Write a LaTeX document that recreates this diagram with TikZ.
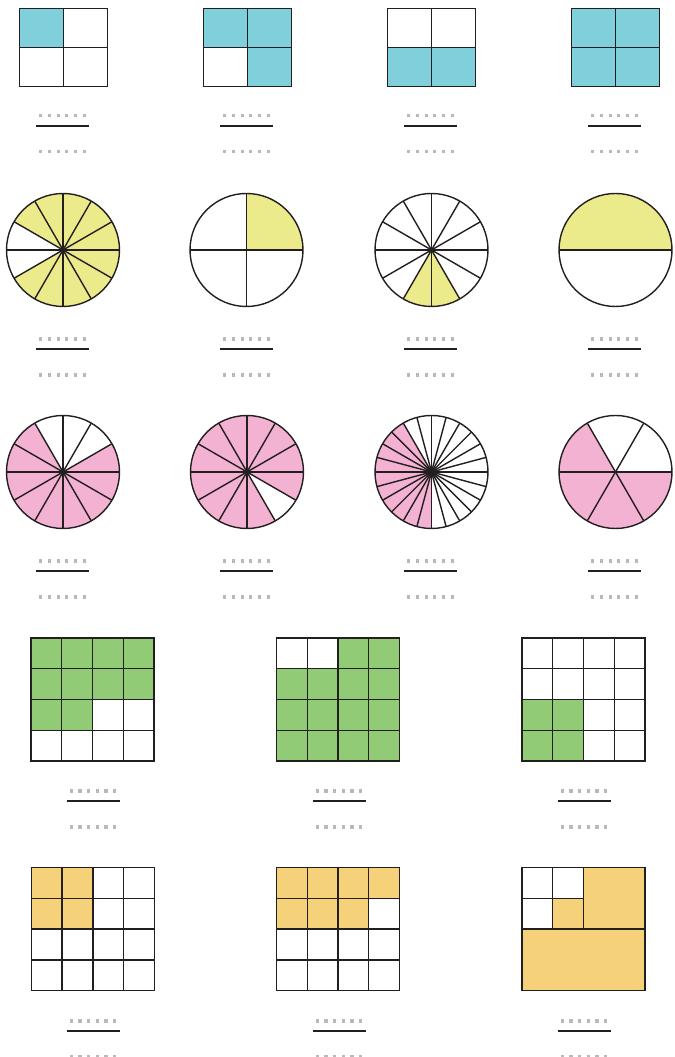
\documentclass[tikz,border=0pt]{standalone}
\usepackage{xcolor}
\usepackage{tikz}
\usetikzlibrary{positioning,calc}

\definecolor{tileblue}{RGB}{127,208,218}
\definecolor{tileyellow}{RGB}{235,235,140}
\definecolor{tilepink}{RGB}{243,178,210}
\definecolor{tilegreen}{RGB}{145,203,118}
\definecolor{tileorange}{RGB}{245,210,122}
\definecolor{dotgray}{RGB}{185,185,185}
\definecolor{inkline}{RGB}{35,31,32}

% blank fraction: dotted numerator, bar, dotted denominator
\newcommand{\blankfrac}[2]{%
  \coordinate (#1) at #2;
  \foreach \k in {0,...,5} {
    \fill[dotgray] ($(#1)+(-21.7+8.67*\k,10)$) +(-1.6,-1.6) rectangle +(1.6,1.6);
    \fill[dotgray] ($(#1)+(-21.7+8.67*\k,-26)$) +(-1.6,-1.6) rectangle +(1.6,1.6);
  }
  \draw[fracbar] ($(#1)+(-26.5,0)$) -- ($(#1)+(26.5,0)$);
}

% 2x2 box, shaded cells given as col/row (row 0 on top)
\newcommand{\quadbox}[3]{%
  \coordinate (#1) at #2;
  \foreach \c/\r in {#3}
    \fill[tileblue] ($(#1)+(-44+44*\c,39.2-39.2*\r)$) rectangle ++(44,-39.2);
  \draw[outline] ($(#1)+(-44,-39.2)$) rectangle ++(88,78.4);
  \draw[outline] ($(#1)+(0,-39.2)$) -- ++(0,78.4);
  \draw[outline] ($(#1)+(-44,0)$) -- ++(88,0);
}

% circle cut in #3 equal slices, shaded slices counted from east
\newcommand{\piechart}[5]{%
  \coordinate (#1) at #2;
  \foreach \s in {#4} {
    \pgfmathsetmacro{\angA}{\s*360/#3}
    \pgfmathsetmacro{\angB}{(\s+1)*360/#3}
    \fill[#5] (#1) -- ++(\angA:56.5) arc[start angle=\angA, end angle=\angB, radius=56.5] -- cycle;
  }
  \foreach \s in {1,...,#3}
    \draw[outline] (#1) -- ++({\s*360/#3}:56.5);
  \draw[outline] (#1) circle[radius=56.5];
}

% 4x4 grid, shaded cells given as col/row (row 0 on top)
\newcommand{\tilegrid}[4]{%
  \coordinate (#1) at #2;
  \foreach \c/\r in {#3}
    \fill[#4] ($(#1)+(-61.5+30.75*\c,61.5-30.75*\r)$) rectangle ++(30.75,-30.75);
  \foreach \k in {1,2,3} {
    \draw[outline] ($(#1)+(-61.5+30.75*\k,61.5)$) -- ++(0,-123);
    \draw[outline] ($(#1)+(-61.5,61.5-30.75*\k)$) -- ++(123,0);
  }
  \draw[outline] ($(#1)+(-61.5,-61.5)$) rectangle ++(123,123);
}

\begin{document}
\begin{tikzpicture}[x=0.02cm, y=0.02cm]

    \tikzset{
        outline/.style={draw=inkline, line width=0.8pt, line join=miter},
        fracbar/.style={draw=inkline, line width=1.1pt}
    }

    \useasboundingbox (0,0) rectangle (675,1057);

    % Row 1: quarters of a box
    \quadbox{sqA}{(63.3,1009.5)}{0/0}
    \quadbox{sqB}{(247.5,1009.5)}{0/0,1/0,1/1}
    \quadbox{sqC}{(431.5,1009.5)}{0/1,1/1}
    \quadbox{sqD}{(615.5,1009.5)}{0/0,1/0,0/1,1/1}
    \blankfrac{fA1}{(62.5,931.3)}
    \blankfrac{fA2}{(246.5,931.3)}
    \blankfrac{fA3}{(430.5,931.3)}
    \blankfrac{fA4}{(614.5,931.3)}

    % Row 2: yellow circles
    \piechart{ciA}{(63,807)}{12}{0,1,2,3,4,7,8,9,10,11}{tileyellow}
    \piechart{ciB}{(246.5,807)}{4}{0}{tileyellow}
    \piechart{ciC}{(431.5,807)}{12}{8,9}{tileyellow}
    \piechart{ciD}{(615.5,807)}{2}{0}{tileyellow}
    \blankfrac{fB1}{(62.5,708)}
    \blankfrac{fB2}{(246.5,708)}
    \blankfrac{fB3}{(430.5,708)}
    \blankfrac{fB4}{(614.5,708)}

    % Row 3: pink circles
    \piechart{cpA}{(63,585)}{12}{0,4,5,6,7,8,9,10,11}{tilepink}
    \piechart{cpB}{(247,585)}{12}{0,1,2,3,4,5,6,7,8,9,11}{tilepink}
    \piechart{cpC}{(431.5,585)}{24}{8,9,10,11,12,13,14,15,16,17}{tilepink}
    \piechart{cpD}{(615.5,585)}{6}{2,3,4,5}{tilepink}
    \blankfrac{fC1}{(62.5,486)}
    \blankfrac{fC2}{(246.5,486)}
    \blankfrac{fC3}{(430.5,486)}
    \blankfrac{fC4}{(614.5,486)}

    % Row 4: green grids
    \tilegrid{gA}{(92.5,357.5)}{0/0,1/0,2/0,3/0,0/1,1/1,2/1,3/1,0/2,1/2}{tilegreen}
    \tilegrid{gB}{(338,357.5)}{2/0,3/0,0/1,1/1,2/1,3/1,0/2,1/2,2/2,3/2,0/3,1/3,2/3,3/3}{tilegreen}
    \tilegrid{gC}{(583.5,357.5)}{0/2,1/2,0/3,1/3}{tilegreen}
    \blankfrac{fD1}{(93,256)}
    \blankfrac{fD2}{(339,256)}
    \blankfrac{fD3}{(584,256)}

    % Row 5: orange grids
    \tilegrid{oA}{(92.8,127.8)}{0/0,1/0,0/1,1/1}{tileorange}
    \tilegrid{oB}{(338,127.8)}{0/0,1/0,2/0,3/0,0/1,1/1,2/1}{tileorange}
    \coordinate (oC) at (583.5,127.8);
    \fill[tileorange] ($(oC)+(-61.5,-61.5)$) rectangle ++(123,61.5);
    \fill[tileorange] (oC) rectangle ++(61.5,61.5);
    \fill[tileorange] ($(oC)+(-30.75,0)$) rectangle ++(30.75,30.75);
    \draw[outline] ($(oC)+(-61.5,-61.5)$) rectangle ++(123,123);
    \draw[outline] ($(oC)+(-61.5,0)$) -- ++(123,0);
    \draw[outline] (oC) -- ++(0,61.5);
    \draw[outline] ($(oC)+(-30.75,0)$) -- ++(0,61.5);
    \draw[outline] ($(oC)+(-61.5,30.75)$) -- ++(61.5,0);
    \blankfrac{fE1}{(93,26)}
    \blankfrac{fE2}{(339,26)}
    \blankfrac{fE3}{(584,26)}

\end{tikzpicture}
\end{document}
